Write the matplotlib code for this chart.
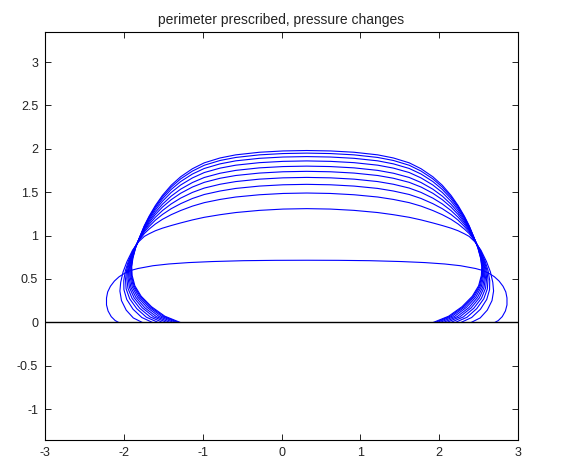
import matplotlib
matplotlib.use("Agg")
import matplotlib.pyplot as plt
import numpy as np

plt.rcParams['font.family'] = ['Liberation Sans', 'DejaVu Sans']

# drop profiles: distance from the symmetry axis, height
center_x = 0.32

upper_r = [0.0, 0.3, 0.6, 0.9, 1.1, 1.3, 1.45, 1.6, 1.72, 1.83, 1.92, 2.0, 2.06]
upper_y = [
    [1.98, 1.975, 1.96, 1.93, 1.894, 1.838, 1.770, 1.677, 1.579, 1.463, 1.346, 1.222, 1.114],
    [1.95, 1.945, 1.93, 1.90, 1.865, 1.810, 1.743, 1.653, 1.558, 1.446, 1.333, 1.213, 1.108],
    [1.91, 1.905, 1.89, 1.861, 1.826, 1.773, 1.709, 1.622, 1.531, 1.424, 1.316, 1.201, 1.101],
    [1.86, 1.855, 1.84, 1.811, 1.777, 1.726, 1.664, 1.582, 1.496, 1.395, 1.294, 1.186, 1.092],
    [1.80, 1.795, 1.78, 1.751, 1.718, 1.669, 1.611, 1.534, 1.454, 1.361, 1.268, 1.168, 1.081],
    [1.74, 1.735, 1.72, 1.692, 1.660, 1.613, 1.559, 1.487, 1.413, 1.328, 1.242, 1.150, 1.070],
    [1.67, 1.665, 1.65, 1.622, 1.591, 1.547, 1.497, 1.431, 1.364, 1.288, 1.211, 1.129, 1.057],
    [1.59, 1.585, 1.57, 1.543, 1.513, 1.473, 1.427, 1.367, 1.309, 1.243, 1.177, 1.104, 1.042],
    [1.49, 1.485, 1.47, 1.444, 1.416, 1.379, 1.339, 1.288, 1.240, 1.187, 1.133, 1.074, 1.023],
    [1.31, 1.305, 1.29, 1.265, 1.24, 1.21, 1.18, 1.145, 1.115, 1.085, 1.055, 1.02, 0.99],
]
lower_r = [
    [2.12, 2.17, 2.205, 2.22, 2.215, 2.18, 2.10, 1.97, 1.80, 1.61],
    [2.12, 2.172, 2.208, 2.225, 2.222, 2.189, 2.111, 1.984, 1.818, 1.632],
    [2.121, 2.174, 2.213, 2.231, 2.230, 2.200, 2.126, 2.003, 1.842, 1.660],
    [2.122, 2.177, 2.218, 2.240, 2.241, 2.214, 2.145, 2.027, 1.872, 1.696],
    [2.123, 2.181, 2.225, 2.250, 2.254, 2.231, 2.167, 2.056, 1.908, 1.739],
    [2.124, 2.184, 2.232, 2.259, 2.267, 2.248, 2.190, 2.085, 1.943, 1.782],
    [2.125, 2.189, 2.240, 2.271, 2.282, 2.268, 2.216, 2.118, 1.985, 1.832],
    [2.126, 2.193, 2.249, 2.284, 2.299, 2.291, 2.246, 2.156, 2.033, 1.889],
    [2.127, 2.199, 2.260, 2.300, 2.321, 2.319, 2.283, 2.204, 2.092, 1.961],
    [2.13, 2.21, 2.28, 2.33, 2.36, 2.37, 2.35, 2.29, 2.20, 2.09],
]
lower_y = [
    [0.98, 0.86, 0.74, 0.64, 0.54, 0.42, 0.30, 0.18, 0.07, 0.0],
    [0.978, 0.859, 0.738, 0.637, 0.536, 0.417, 0.298, 0.178, 0.069, 0.0],
    [0.975, 0.857, 0.736, 0.634, 0.532, 0.414, 0.295, 0.176, 0.068, 0.0],
    [0.971, 0.855, 0.733, 0.629, 0.526, 0.409, 0.291, 0.173, 0.066, 0.0],
    [0.967, 0.852, 0.729, 0.624, 0.518, 0.404, 0.287, 0.169, 0.065, 0.0],
    [0.962, 0.849, 0.726, 0.619, 0.511, 0.399, 0.282, 0.166, 0.063, 0.0],
    [0.957, 0.846, 0.721, 0.612, 0.503, 0.392, 0.277, 0.161, 0.061, 0.0],
    [0.951, 0.843, 0.717, 0.605, 0.493, 0.385, 0.271, 0.157, 0.058, 0.0],
    [0.943, 0.838, 0.711, 0.596, 0.482, 0.376, 0.263, 0.151, 0.055, 0.0],
    [0.93, 0.83, 0.70, 0.58, 0.46, 0.36, 0.25, 0.14, 0.05, 0.0],
]

# the flat drop
flat_r = [0.0, 0.4, 0.8, 1.2, 1.5, 1.75, 1.95, 2.14, 2.23, 2.31, 2.38, 2.44, 2.49,
          2.525, 2.54, 2.54, 2.52, 2.48, 2.43, 2.39]
flat_y = [0.715, 0.714, 0.71, 0.70, 0.688, 0.672, 0.652, 0.62, 0.598, 0.565, 0.525,
          0.475, 0.415, 0.35, 0.28, 0.20, 0.13, 0.065, 0.02, 0.0]

xticks = [-3, -2, -1, 0, 1, 2, 3]
xtick_labels = ['-3', '-2', '-1', '0', '1', '2', '3']
yticks = [-1, -0.5, 0, 0.5, 1, 1.5, 2, 2.5, 3]
ytick_labels = ['-1', '-0.5', '0', '0.5', '1', '1.5', '2', '2.5', '3']


def mirrored(r, y):
    r = np.asarray(r)
    y = np.asarray(y)
    xs = np.concatenate([center_x - r[::-1], center_x + r])
    ys = np.concatenate([y[::-1], y])
    return xs, ys


fig = plt.figure(figsize=(5.69, 4.66), dpi=100)
ax = fig.add_axes([0.0791, 0.0558, 0.8313, 0.8755])

for i in range(len(upper_y)):
    xs, ys = mirrored(upper_r + lower_r[i], upper_y[i] + lower_y[i])
    ax.plot(xs, ys, color='#0000ff', lw=0.8)

xs, ys = mirrored(flat_r, flat_y)
ax.plot(xs, ys, color='#0000ff', lw=0.8)

ax.axhline(0, color='black', lw=1.0)

ax.set_xlim(-3, 3)
ax.set_ylim(-1.357, 3.346)
ax.set_xticks(xticks)
ax.set_xticklabels(xtick_labels)
ax.set_yticks(yticks)
ax.set_yticklabels(ytick_labels)
ax.tick_params(direction='in', top=True, right=True, length=4, width=0.6,
               labelsize=9, pad=5, labelcolor='#222222')
for s in ax.spines.values():
    s.set_linewidth(0.8)

ax.set_title('perimeter prescribed, pressure changes', fontsize=10, pad=6,
             color='#222222')

fig.savefig('out.png', dpi=100)
